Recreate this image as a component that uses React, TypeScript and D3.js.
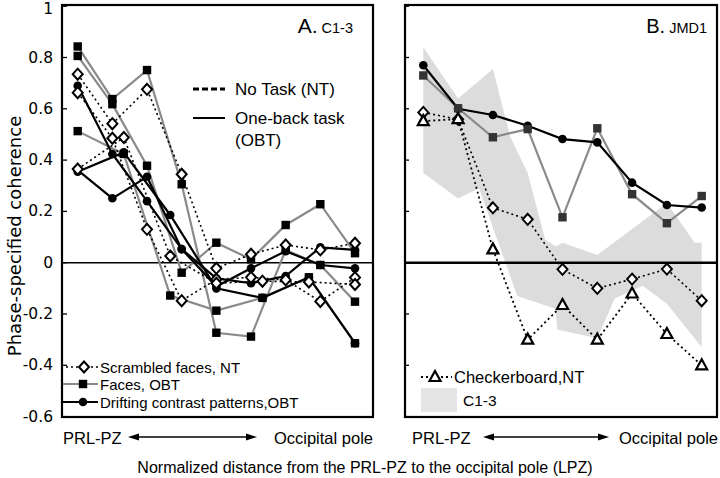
import React from 'react';
import * as d3 from 'd3';

// ---------- DATA ----------
const yTicks = [1, 0.8, 0.6, 0.4, 0.2, 0, -0.2, -0.4, -0.6];
const pos9 = [0, 1, 2, 3, 4, 5, 6, 7, 8];
const pos7 = [0, 1.33, 2.67, 4, 5.33, 6.67, 8];

// Panel A (C1-3)
const facesA1 = [0.843, 0.638, 0.751, 0.306, -0.273, -0.288, 0.05, -0.009, -0.152];
const facesA2 = [0.806, 0.618, 0.378, -0.039, 0.078, 0.013, 0.147, 0.228, 0.037];
const facesA3 = [0.513, 0.424, -0.128, -0.187, -0.137, -0.057, -0.314];
const driftA1 = [0.69, 0.424, 0.24, 0.053, -0.061, -0.08, -0.052, 0.06, 0.05];
const driftA2 = [0.361, 0.251, 0.335, 0.053, -0.093, -0.022, 0.045, -0.009, -0.022];
const driftA3 = [0.355, 0.43, 0.186, -0.1, -0.137, -0.057, -0.314];
const scramA1 = [0.735, 0.542, 0.676, 0.345, -0.022, 0.033, 0.069, 0.05, 0.076];
const scramA2 = [0.663, 0.485, 0.13, -0.148, -0.065, -0.057, -0.067, -0.151, -0.058];
const scramA3 = [0.365, 0.488, 0.026, -0.08, -0.072, -0.075, -0.085];

// Panel B (JMD1)
const facesB = [0.73, 0.602, 0.489, 0.521, 0.177, 0.524, 0.267, 0.154, 0.26];
const driftB = [0.77, 0.6, 0.576, 0.534, 0.482, 0.469, 0.312, 0.225, 0.215];
const scramB = [0.586, 0.559, 0.214, 0.169, -0.026, -0.1, -0.064, -0.025, -0.148];
const checkB = [0.552, 0.56, 0.052, -0.3, -0.165, -0.3, -0.12, -0.278, -0.4];

// C1-3 range band in panel B
const bandUpperPos = [0, 1, 2, 2.5, 3, 3.5, 3.8, 4, 5, 7, 7.8, 8];
const bandUpperVal = [0.84, 0.64, 0.755, 0.49, 0.35, 0.09, 0.063, 0.078, 0.03, 0.233, 0.078, 0.078];
const bandLowerPos = [0, 1, 1.6, 2.7, 3.8, 3.85, 5, 5.5, 6.3, 7, 8];
const bandLowerVal = [0.35, 0.25, 0.29, -0.13, -0.18, -0.26, -0.295, -0.14, -0.09, -0.16, -0.33];

type Kind = 'faces' | 'drift' | 'scram' | 'check';
interface Series { kind: Kind; pos: number[]; vals: number[] }

const seriesA: Series[] = [
  { kind: 'faces', pos: pos9, vals: facesA1 },
  { kind: 'faces', pos: pos9, vals: facesA2 },
  { kind: 'faces', pos: pos7, vals: facesA3 },
  { kind: 'drift', pos: pos9, vals: driftA1 },
  { kind: 'drift', pos: pos9, vals: driftA2 },
  { kind: 'drift', pos: pos7, vals: driftA3 },
  { kind: 'scram', pos: pos9, vals: scramA1 },
  { kind: 'scram', pos: pos9, vals: scramA2 },
  { kind: 'scram', pos: pos7, vals: scramA3 },
];
const seriesB: Series[] = [
  { kind: 'faces', pos: pos9, vals: facesB },
  { kind: 'drift', pos: pos9, vals: driftB },
  { kind: 'scram', pos: pos9, vals: scramB },
  { kind: 'check', pos: pos9, vals: checkB },
];

// ---------- STYLE ----------
const lineStyle: Record<Kind, { stroke: string; width: number; dash?: string }> = {
  faces: { stroke: '#8a8a8a', width: 2.2 },
  drift: { stroke: '#000', width: 2.2 },
  scram: { stroke: '#000', width: 1.6, dash: '2,3' },
  check: { stroke: '#000', width: 1.8, dash: '2,3' },
};
const lineOrder: Kind[] = ['faces', 'drift', 'scram', 'check'];
const markerOrder: Kind[] = ['drift', 'faces', 'scram', 'check'];

const SANS = 'Arial, "Liberation Sans", sans-serif';
const VERD = '"DejaVu Sans", Verdana, sans-serif';

const y = d3.scaleLinear().domain([-0.6, 1]).range([416.6, 6.2]);
const xA = d3.scaleLinear().domain([0, 8]).range([77.7, 355]);
const xB = d3.scaleLinear().domain([0, 8]).range([423.3, 701.7]);

function Marker({ kind, cx, cy, squareFill = '#000' }: { kind: Kind; cx: number; cy: number; squareFill?: string }) {
  if (kind === 'faces') return <rect x={cx - 4.2} y={cy - 4.2} width={8.4} height={8.4} fill={squareFill} />;
  if (kind === 'drift') return <circle cx={cx} cy={cy} r={4.3} fill="#000" />;
  if (kind === 'scram')
    return <path d={`M${cx},${cy - 5.5}L${cx + 5},${cy}L${cx},${cy + 5.5}L${cx - 5},${cy}Z`} fill="#fff" stroke="#000" strokeWidth={2} />;
  return <path d={`M${cx},${cy - 6}L${cx + 5.5},${cy + 4}L${cx - 5.5},${cy + 4}Z`} fill="#fff" stroke="#000" strokeWidth={2.2} strokeLinejoin="miter" />;
}

function SeriesLayer({ series, x, squareFill }: { series: Series[]; x: d3.ScaleLinear<number, number>; squareFill: string }) {
  const line = d3.line<[number, number]>().x((d) => x(d[0])).y((d) => y(d[1]));
  return (
    <g>
      {lineOrder.map((k) =>
        series.filter((s) => s.kind === k).map((s, i) => {
          const st = lineStyle[k];
          const pts = s.pos.map((p, j) => [p, s.vals[j]] as [number, number]);
          return <path key={k + i} d={line(pts) || ''} fill="none" stroke={st.stroke} strokeWidth={st.width} strokeDasharray={st.dash} />;
        })
      )}
      {markerOrder.map((k) =>
        series.filter((s) => s.kind === k).map((s, i) =>
          s.pos.map((p, j) => <Marker key={k + i + '-' + j} kind={k} cx={x(p)} cy={y(s.vals[j])} squareFill={squareFill} />)
        )
      )}
    </g>
  );
}

function Arrow({ x1, x2, yy }: { x1: number; x2: number; yy: number }) {
  return (
    <g>
      <line x1={x1 + 6} x2={x2 - 6} y1={yy} y2={yy} stroke="#000" strokeWidth={1.3} />
      <path d={`M${x1},${yy}L${x1 + 11},${yy - 3.5}L${x1 + 11},${yy + 3.5}Z`} fill="#000" />
      <path d={`M${x2},${yy}L${x2 - 11},${yy - 3.5}L${x2 - 11},${yy + 3.5}Z`} fill="#000" />
    </g>
  );
}

export default function App() {
  const A = { l: 62, r: 373, t: 5, b: 417 };
  const B = { l: 405, r: 717, t: 5, b: 417 };
  const bandPts: [number, number][] = [
    ...bandUpperPos.map((p, i) => [p, bandUpperVal[i]] as [number, number]),
    ...bandLowerPos.map((p, i) => [p, bandLowerVal[i]] as [number, number]).reverse(),
  ];
  const bandPath = d3.line<[number, number]>().x((d) => xB(d[0])).y((d) => y(d[1]))(bandPts) + 'Z';

  return (
    <svg width={720} height={478} style={{ position: 'absolute', left: 0, top: 0, background: '#fff' }}>
      <rect x={0} y={0} width={720} height={478} fill="#fff" />
      {/* Y axis labels */}
      {yTicks.map((t) => (
        <text key={t} x={53} y={Math.max(y(t), 8.5)} textAnchor="end" dominantBaseline="central" fontFamily={VERD} fontSize={15.5} fill="#000">
          {t === 0 || t === 1 ? String(t) : t.toFixed(1)}
        </text>
      ))}
      <text transform="translate(14,236) rotate(-90)" textAnchor="middle" dominantBaseline="central" fontFamily={VERD} fontSize={18} fill="#000">
        Phase-specified coherence
      </text>

      {/* Panel A */}
      <line x1={A.l} x2={A.r} y1={y(0)} y2={y(0)} stroke="#000" strokeWidth={1.6} />
      {yTicks.map((t) => (
        <line key={'ta' + t} x1={A.l} x2={A.l + 5} y1={y(t)} y2={y(t)} stroke="#000" strokeWidth={1.3} />
      ))}
      <SeriesLayer series={seriesA} x={xA} squareFill="#000" />
      <rect x={A.l} y={A.t} width={A.r - A.l} height={A.b - A.t} fill="none" stroke="#000" strokeWidth={2.2} />
      <text x={353} y={33} textAnchor="end" fontFamily={SANS} fill="#000">
        <tspan fontSize={21}>A.</tspan>
        <tspan fontSize={14.5} dx={4}>C1-3</tspan>
      </text>
      <line x1={193} x2={225} y1={89} y2={89} stroke="#000" strokeWidth={3.2} strokeDasharray="6,3" />
      <text x={235} y={89} dominantBaseline="central" fontFamily={SANS} fontSize={17}>No Task (NT)</text>
      <line x1={193} x2={225} y1={118} y2={118} stroke="#000" strokeWidth={2} />
      <text x={235} y={118} dominantBaseline="central" fontFamily={SANS} fontSize={17}>One-back task</text>
      <text x={235} y={140} dominantBaseline="central" fontFamily={SANS} fontSize={17}>(OBT)</text>

      <line x1={66} x2={98} y1={367} y2={367} stroke="#000" strokeWidth={1.6} strokeDasharray="2,3" />
      <Marker kind="scram" cx={84} cy={367} />
      <text x={100} y={367} dominantBaseline="central" fontFamily={SANS} fontSize={15}>Scrambled faces, NT</text>
      <line x1={63} x2={98} y1={384} y2={384} stroke="#8a8a8a" strokeWidth={2.2} />
      <Marker kind="faces" cx={83} cy={384} />
      <text x={100} y={384} dominantBaseline="central" fontFamily={SANS} fontSize={15}>Faces, OBT</text>
      <line x1={63} x2={98} y1={402} y2={402} stroke="#000" strokeWidth={2.2} />
      <Marker kind="drift" cx={83} cy={402} />
      <text x={100} y={402} dominantBaseline="central" fontFamily={SANS} fontSize={15}>Drifting contrast patterns,OBT</text>

      {/* Panel B */}
      <path d={bandPath} fill="#dcdcdc" stroke="none" />
      <line x1={B.l} x2={B.r} y1={y(0)} y2={y(0)} stroke="#000" strokeWidth={2.6} />
      {yTicks.map((t) => (
        <line key={'tb' + t} x1={B.l} x2={B.l + 4} y1={y(t)} y2={y(t)} stroke="#000" strokeWidth={1.3} />
      ))}
      <SeriesLayer series={seriesB} x={xB} squareFill="#333" />
      <rect x={B.l} y={B.t} width={B.r - B.l} height={B.b - B.t} fill="none" stroke="#000" strokeWidth={2.2} />
      <text x={707} y={33} textAnchor="end" fontFamily={SANS} fill="#000">
        <tspan fontSize={20}>B.</tspan>
        <tspan fontSize={14.5} dx={4}>JMD1</tspan>
      </text>
      <line x1={421} x2={452} y1={377} y2={377} stroke="#000" strokeWidth={1.8} strokeDasharray="2,3" />
      <Marker kind="check" cx={435} cy={377} />
      <text x={454} y={377} dominantBaseline="central" fontFamily={SANS} fontSize={16.5}>Checkerboard,NT</text>
      <rect x={421} y={388} width={36} height={24} fill="#e4e4e4" />
      <text x={463} y={400} dominantBaseline="central" fontFamily={SANS} fontSize={15.5}>C1-3</text>

      {/* X axis annotations */}
      <text x={63} y={438} dominantBaseline="central" fontFamily={SANS} fontSize={16.5}>PRL-PZ</text>
      <Arrow x1={128} x2={257} yy={437} />
      <text x={373} y={438} textAnchor="end" dominantBaseline="central" fontFamily={SANS} fontSize={16.5}>Occipital pole</text>
      <text x={412} y={438} dominantBaseline="central" fontFamily={SANS} fontSize={16.5}>PRL-PZ</text>
      <Arrow x1={483} x2={609} yy={437} />
      <text x={718} y={438} textAnchor="end" dominantBaseline="central" fontFamily={SANS} fontSize={16.5}>Occipital pole</text>
      <text x={365} y={467} textAnchor="middle" dominantBaseline="central" fontFamily={SANS} fontSize={16}>
        Normalized distance from the PRL-PZ to the occipital pole (LPZ)
      </text>
    </svg>
  );
}
